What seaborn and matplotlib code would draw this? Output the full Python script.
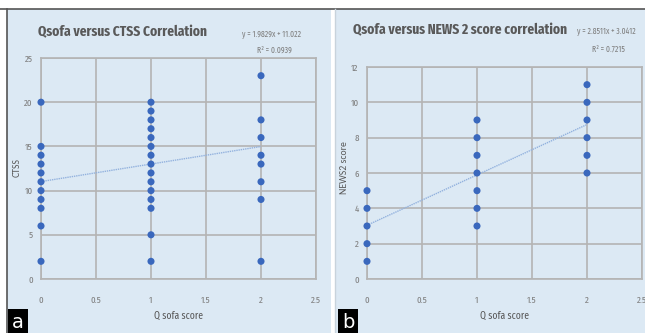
import numpy as np
import pandas as pd
import seaborn as sns
import matplotlib.pyplot as plt
from matplotlib.patches import Rectangle
from matplotlib.lines import Line2D

# panel a: Qsofa vs CTSS
ctss_q0 = [2, 6, 8, 9, 10, 11, 12, 13, 14, 15, 20]
ctss_q1 = [2, 5, 8, 9, 10, 11, 12, 13, 14, 15, 16, 17, 18, 19, 20]
ctss_q2 = [2, 9, 11, 13, 14, 16, 18, 23]
ctss_fit = (1.9829, 11.022)
ctss_r2 = "0.0939"

# panel b: Qsofa vs NEWS2
news_q0 = [1, 2, 3, 4, 5]
news_q1 = [3, 4, 5, 6, 7, 8, 9]
news_q2 = [6, 7, 8, 9, 10, 11]
news_fit = (2.8511, 3.0412)
news_r2 = "0.7215"

x_ticks = [0, 0.5, 1, 1.5, 2, 2.5]
x_tick_labels = ["0", "0.5", "1", "1.5", "2", "2.5"]


def make_df(q0, q1, q2):
    return pd.DataFrame({
        "qsofa": [0] * len(q0) + [1] * len(q1) + [2] * len(q2),
        "score": q0 + q1 + q2,
    })


df_a = make_df(ctss_q0, ctss_q1, ctss_q2)
df_b = make_df(news_q0, news_q1, news_q2)

W, H = 645, 333
COND = ["Fira Sans Extra Condensed", "DejaVu Sans"]
plt.rcParams["font.family"] = COND

BG = "#dce9f4"
GRID = "#b4b4b4"
DOT = "#3a68bd"
TREND = "#93b2de"
TXT = "#595959"
TICK = "#808080"

fig = plt.figure(figsize=(W / 100, H / 100), dpi=100)
fig.patch.set_facecolor("white")


def fx(x):
    return x / W


def fy(y):
    return 1 - y / H


# panel backgrounds and frame
fig.patches.append(Rectangle((fx(7), 0), fx(324), fy(9), transform=fig.transFigure,
                             facecolor=BG, edgecolor="none", zorder=-10))
fig.patches.append(Rectangle((fx(335), 0), fx(310), fy(9), transform=fig.transFigure,
                             facecolor=BG, edgecolor="none", zorder=-10))
fig.lines.append(Line2D([0, 1], [fy(9), fy(9)], transform=fig.transFigure,
                        color="#555555", lw=1.2, zorder=-5))
fig.lines.append(Line2D([fx(6.5), fx(6.5)], [0, fy(9)], transform=fig.transFigure,
                        color="#555555", lw=1.2, zorder=-5))
fig.lines.append(Line2D([fx(335), fx(335)], [0, fy(9)], transform=fig.transFigure,
                        color="#c8d3dc", lw=1, zorder=-5))


def panel(df, box, ylim, yticks, fit, r2, title, title_xy, eq_xy, ylabel, ylabel_xy, letter, letter_x):
    left, top, right, bottom = box
    ax = fig.add_axes([fx(left), fy(bottom), fx(right - left), (bottom - top) / H])
    ax.set_facecolor("none")
    sns.scatterplot(data=df, x="qsofa", y="score", ax=ax, color=DOT, s=26,
                    edgecolor="none", clip_on=False, zorder=3)
    xs = np.array([0, 2])
    ax.plot(xs, fit[0] * xs + fit[1], color=TREND, lw=1.0, ls=(0, (1, 0.6)), zorder=2)
    ax.set_xlim(0, 2.5)
    ax.set_ylim(*ylim)
    ax.set_xticks(x_ticks)
    ax.set_xticklabels(x_tick_labels)
    ax.set_yticks(yticks)
    ax.grid(True, color=GRID, lw=1.2)
    ax.set_axisbelow(True)
    for sp in ax.spines.values():
        sp.set_color(GRID)
        sp.set_linewidth(1.2)
    ax.tick_params(length=0, labelsize=7, colors=TICK, pad=6)
    ax.tick_params(axis="x", pad=12)
    ax.set_xlabel("")
    ax.set_ylabel("")

    fig.text(fx(title_xy[0]), fy(title_xy[1]), title, ha="center", va="center",
             fontsize=10.5, fontweight="bold", color=TXT)
    fig.text(fx(eq_xy[0]), fy(eq_xy[1]), f"y = {fit[0]}x + {fit[1]}", ha="center",
             va="center", fontsize=6, color=TICK)
    fig.text(fx(eq_xy[0] + 2), fy(eq_xy[1] + 17), f"R² = {r2}", ha="center",
             va="center", fontsize=6, color=TICK)
    fig.text(fx(ylabel_xy[0]), fy(ylabel_xy[1]), ylabel, ha="center", va="center",
             rotation=90, fontsize=7, color=TXT, family=["Carlito", "DejaVu Sans"])
    fig.text(fx((left + right) / 2), fy(316), "Q sofa score", ha="center", va="center",
             fontsize=7.5, color=TXT)
    fig.text(fx(letter_x), fy(322), letter, ha="center", va="center", fontsize=14,
             color="white", family="DejaVu Sans",
             bbox=dict(boxstyle="square,pad=0.2", facecolor="black", edgecolor="none"))
    return ax


panel(df_a, (41, 58, 316, 279), (0, 25), [0, 5, 10, 15, 20, 25], ctss_fit, ctss_r2,
      "Qsofa versus CTSS Correlation", (122, 32), (272, 33), "CTSS", (17, 168), "a", 18)
panel(df_b, (367, 67, 642, 279), (0, 12), [0, 2, 4, 6, 8, 10, 12], news_fit, news_r2,
      "Qsofa versus NEWS 2 score correlation", (460, 30), (606, 32), "NEWS2 score", (345, 168),
      "b", 348)

fig.savefig("out.png", dpi=100)
